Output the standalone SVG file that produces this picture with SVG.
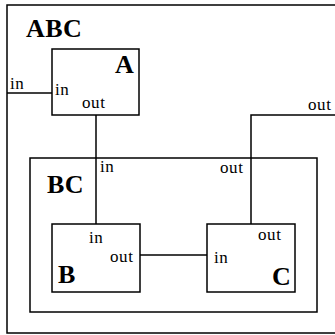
<svg xmlns="http://www.w3.org/2000/svg" width="335" height="335" viewBox="0 0 335 335">
<style>
.box{fill:none;stroke:#000;stroke-width:1.5}
.ln{fill:none;stroke:#000;stroke-width:1.5}
text{font-family:'Liberation Serif',serif;fill:#000}
.p{font-size:17px;letter-spacing:0.6px}
.t{font-size:26px;font-weight:bold;letter-spacing:0.5px}
</style>
<rect x="0" y="0" width="335" height="335" fill="#fff"/>
<g id="ABC">
<rect class="box" x="7" y="5" width="332" height="328"/>
<text class="t" x="26" y="37">ABC</text>
<text class="p" x="10" y="89">in</text>
<text class="p" x="308" y="110">out</text>
</g>
<g id="A">
<rect class="box" x="52" y="49" width="87" height="66"/>
<text class="t" x="115" y="73">A</text>
<text class="p" x="55" y="95">in</text>
<text class="p" x="82" y="108">out</text>
</g>
<g id="BC">
<rect class="box" x="30" y="158" width="287" height="154"/>
<text class="t" x="47" y="193">BC</text>
<text class="p" x="100" y="172">in</text>
<text class="p" x="220" y="173">out</text>
</g>
<g id="B">
<rect class="box" x="52" y="224" width="88" height="68"/>
<text class="t" x="58" y="283">B</text>
<text class="p" x="89" y="243">in</text>
<text class="p" x="110" y="262">out</text>
</g>
<g id="C">
<rect class="box" x="207" y="224" width="88" height="68"/>
<text class="t" x="272" y="285">C</text>
<text class="p" x="214" y="263">in</text>
<text class="p" x="258" y="240">out</text>
</g>
<g id="connectors">
<path class="ln" d="M7 93 H52"/>
<path class="ln" d="M96 115 V224"/>
<path class="ln" d="M140 255 H207"/>
<path class="ln" d="M251 224 V115 H335"/>
</g>
</svg>
